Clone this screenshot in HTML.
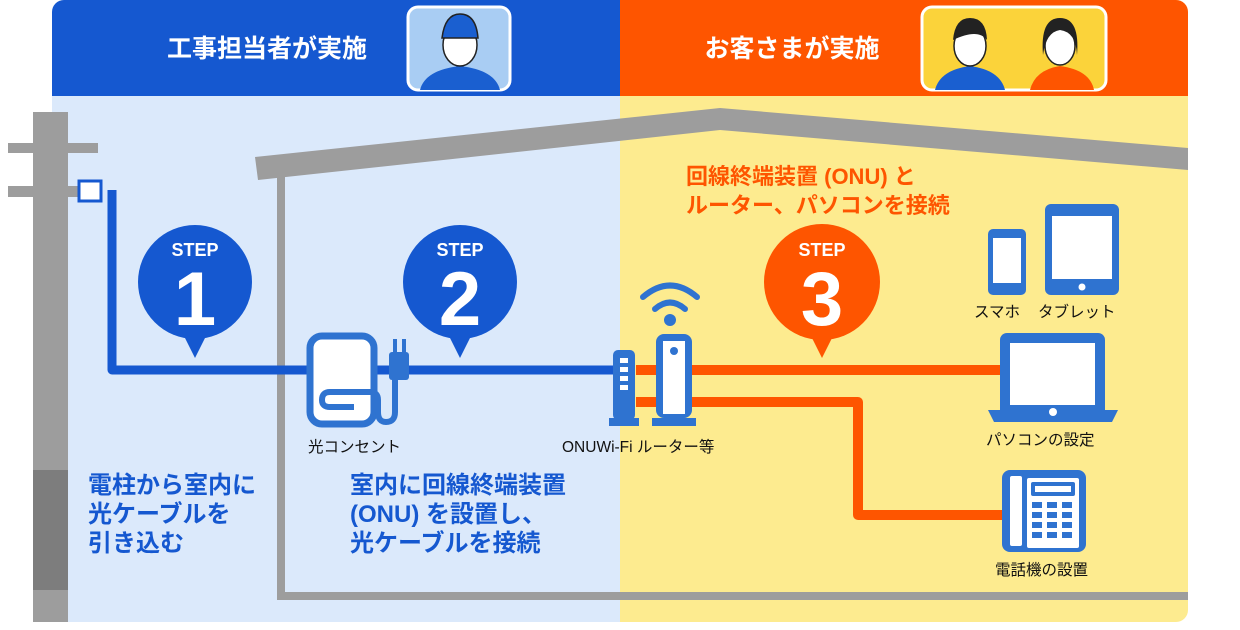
<!DOCTYPE html>
<html><head><meta charset="utf-8"><style>
body{margin:0;width:1240px;height:630px;background:#fff;overflow:hidden}
svg{display:block}
text{font-family:"Liberation Sans","Noto Sans CJK JP",sans-serif}
</style></head><body>
<svg width="1240" height="630" viewBox="0 0 1240 630">
<defs><clipPath id="pc"><rect x="52" y="0" width="1136" height="622" rx="12"/></clipPath></defs>
<g clip-path="url(#pc)">
<rect x="52" y="0" width="568" height="622" fill="#dbe9fb"/>
<rect x="620" y="0" width="568" height="622" fill="#fdeb8f"/>
<rect x="52" y="0" width="568" height="96" fill="#1558d0"/>
<rect x="620" y="0" width="568" height="96" fill="#fe5500"/>
</g>
<text x="267" y="57" font-size="25" font-weight="bold" fill="#fff" text-anchor="middle">工事担当者が実施</text>
<text x="792" y="57" font-size="25" font-weight="bold" fill="#fff" text-anchor="middle">お客さまが実施</text>
<!-- avatars -->
<rect x="408" y="7" width="102" height="83" rx="10" fill="#a9cdf3" stroke="#fff" stroke-width="3"/>
<path d="M420 90 Q425 70 460 66 Q495 70 500 90Z" fill="#1a5fd0"/>
<ellipse cx="460" cy="45" rx="17" ry="21" fill="#fff" stroke="#222" stroke-width="1.5"/>
<path d="M442 38 Q445 14 460 14 Q476 14 478 38 Z" fill="#1a5fd0" stroke="#222" stroke-width="1.5"/>
<rect x="922" y="7" width="184" height="83" rx="10" fill="#fbd33a" stroke="#fff" stroke-width="3"/>
<path d="M935 90 Q940 70 970 66 Q1000 70 1005 90Z" fill="#1a5fd0"/>
<ellipse cx="970" cy="46" rx="16" ry="20" fill="#fff" stroke="#222" stroke-width="1.5"/>
<path d="M953 40 Q955 18 970 18 Q986 18 987 40 Q978 28 953 40Z" fill="#222"/>
<path d="M1030 90 Q1035 70 1060 66 Q1090 70 1094 90Z" fill="#fe5500"/>
<ellipse cx="1060" cy="46" rx="15" ry="19" fill="#fff" stroke="#222" stroke-width="1.5"/>
<path d="M1043 55 Q1040 18 1060 18 Q1080 18 1077 55 Q1076 32 1060 30 Q1046 32 1043 55Z" fill="#222"/>
<!-- pole -->
<rect x="33" y="112" width="35" height="510" fill="#9d9d9d"/>
<rect x="33" y="470" width="35" height="120" fill="#7d7d7d"/>
<rect x="8" y="143" width="90" height="10" fill="#9d9d9d"/>
<rect x="8" y="186" width="90" height="11" fill="#9d9d9d"/>
<!-- house -->
<polygon points="255,157 720,108 1188,148 1188,170 720,130 258,180" fill="#9d9d9d"/>
<rect x="277" y="172" width="8" height="428" fill="#9d9d9d"/>
<rect x="277" y="592" width="911" height="8" fill="#9d9d9d"/>
<!-- blue cable -->
<path d="M112 190 V370 H620" fill="none" stroke="#1558d0" stroke-width="9" stroke-linejoin="round"/>
<rect x="79" y="181" width="22" height="20" fill="#fff" stroke="#1558d0" stroke-width="3"/>
<!-- orange -->
<path d="M636 370 H1005" stroke="#fe5500" stroke-width="10" fill="none"/>
<path d="M636 402 H858 V515 H1010" stroke="#fe5500" stroke-width="10" fill="none" stroke-linejoin="round"/>
<!-- step bubbles -->
<g><circle cx="195" cy="282" r="57" fill="#1558d0"/><polygon points="181,330 209,330 195,358" fill="#1558d0"/>
<text x="195" y="256" font-size="18" font-weight="bold" fill="#fff" text-anchor="middle">STEP</text>
<text x="195" y="325" font-size="76" font-weight="bold" fill="#fff" text-anchor="middle">1</text></g>
<g><circle cx="460" cy="282" r="57" fill="#1558d0"/><polygon points="446,330 474,330 460,358" fill="#1558d0"/>
<text x="460" y="256" font-size="18" font-weight="bold" fill="#fff" text-anchor="middle">STEP</text>
<text x="460" y="325" font-size="76" font-weight="bold" fill="#fff" text-anchor="middle">2</text></g>
<g><circle cx="822" cy="282" r="58" fill="#fe5500"/><polygon points="808,330 836,330 822,358" fill="#fe5500"/>
<text x="822" y="256" font-size="18" font-weight="bold" fill="#fff" text-anchor="middle">STEP</text>
<text x="822" y="325" font-size="76" font-weight="bold" fill="#fff" text-anchor="middle">3</text></g>
<!-- outlet -->
<rect x="310" y="336" width="64" height="88" rx="12" fill="#fff" stroke="#2f73d0" stroke-width="7"/>
<path d="M354 407 H330 Q322 407 322 400 Q322 392 330 392 H370 Q378 392 378 400 V412 Q378 422 386 422 Q395 422 395 412 V378" fill="none" stroke="#2f73d0" stroke-width="6"/>
<rect x="389" y="352" width="20" height="28" rx="3" fill="#2f73d0"/>
<rect x="393" y="339" width="4" height="14" fill="#2f73d0"/><rect x="402" y="339" width="4" height="14" fill="#2f73d0"/>
<text x="308" y="452" font-size="15.5" fill="#111">光コンセント</text>
<!-- ONU & router -->
<rect x="613" y="350" width="22" height="70" rx="5" fill="#2f73d0"/>
<rect x="620" y="358" width="8" height="5" fill="#fff"/><rect x="620" y="367" width="8" height="5" fill="#fff"/><rect x="620" y="376" width="8" height="5" fill="#fff"/><rect x="620" y="385" width="8" height="5" fill="#fff"/>
<rect x="609" y="418" width="30" height="8" fill="#2f73d0"/>
<rect x="656" y="334" width="36" height="84" rx="8" fill="#2f73d0"/>
<rect x="663" y="341" width="22" height="73" fill="#fff"/>
<circle cx="674" cy="351" r="4" fill="#2f73d0"/>
<rect x="652" y="418" width="44" height="8" fill="#2f73d0"/>
<circle cx="670" cy="320" r="6" fill="#2f73d0"/>
<path d="M655 309 Q670 296 685 309" fill="none" stroke="#2f73d0" stroke-width="6" stroke-linecap="round"/>
<path d="M643 297 Q670 274 697 297" fill="none" stroke="#2f73d0" stroke-width="6" stroke-linecap="round"/>
<text x="562" y="452" font-size="15.5" fill="#111">ONUWi-Fi ルーター等</text>
<!-- phone/tablet -->
<rect x="988" y="229" width="38" height="66" rx="5" fill="#2f73d0"/><rect x="993" y="238" width="28" height="45" fill="#fff"/>
<rect x="1045" y="204" width="74" height="91" rx="6" fill="#2f73d0"/><rect x="1052" y="216" width="60" height="63" fill="#fff"/><circle cx="1082" cy="287" r="3.5" fill="#fff"/>
<text x="974" y="317" font-size="15.5" fill="#111">スマホ</text>
<text x="1038" y="317" font-size="15.5" fill="#111">タブレット</text>
<!-- laptop -->
<rect x="1000" y="333" width="105" height="85" rx="7" fill="#2f73d0"/><rect x="1010" y="343" width="85" height="62" fill="#fff"/>
<path d="M988 410 H1118 L1112 422 H994Z" fill="#2f73d0"/><circle cx="1053" cy="412" r="4" fill="#fff"/>
<text x="986" y="445" font-size="15.5" fill="#111">パソコンの設定</text>
<!-- telephone -->
<rect x="1002" y="470" width="84" height="82" rx="8" fill="#2f73d0"/>
<rect x="1010" y="476" width="12" height="70" rx="2" fill="#fff"/>
<rect x="1027" y="478" width="52" height="70" rx="2" fill="#fff"/>
<rect x="1031" y="482" width="44" height="14" rx="2" fill="#2f73d0"/><rect x="1035" y="486" width="36" height="6" fill="#fff"/>
<g fill="#2f73d0"><rect x="1032" y="502" width="10" height="6"/><rect x="1047" y="502" width="10" height="6"/><rect x="1062" y="502" width="10" height="6"/>
<rect x="1032" y="512" width="10" height="6"/><rect x="1047" y="512" width="10" height="6"/><rect x="1062" y="512" width="10" height="6"/>
<rect x="1032" y="522" width="10" height="6"/><rect x="1047" y="522" width="10" height="6"/><rect x="1062" y="522" width="10" height="6"/>
<rect x="1032" y="532" width="10" height="6"/><rect x="1047" y="532" width="10" height="6"/><rect x="1062" y="532" width="10" height="6"/></g>
<text x="995" y="575" font-size="15.5" fill="#111">電話機の設置</text>
<!-- captions -->
<g font-size="22" font-weight="bold" fill="#fe5500"><text x="686" y="184">回線終端装置 (ONU) と</text><text x="686" y="213">ルーター、パソコンを接続</text></g>
<g font-size="24" font-weight="bold" fill="#1558d0"><text x="88" y="493">電柱から室内に</text><text x="88" y="522">光ケーブルを</text><text x="88" y="551">引き込む</text>
<text x="350" y="493">室内に回線終端装置</text><text x="350" y="522">(ONU) を設置し、</text><text x="350" y="551">光ケーブルを接続</text></g>
</svg>
</body></html>
